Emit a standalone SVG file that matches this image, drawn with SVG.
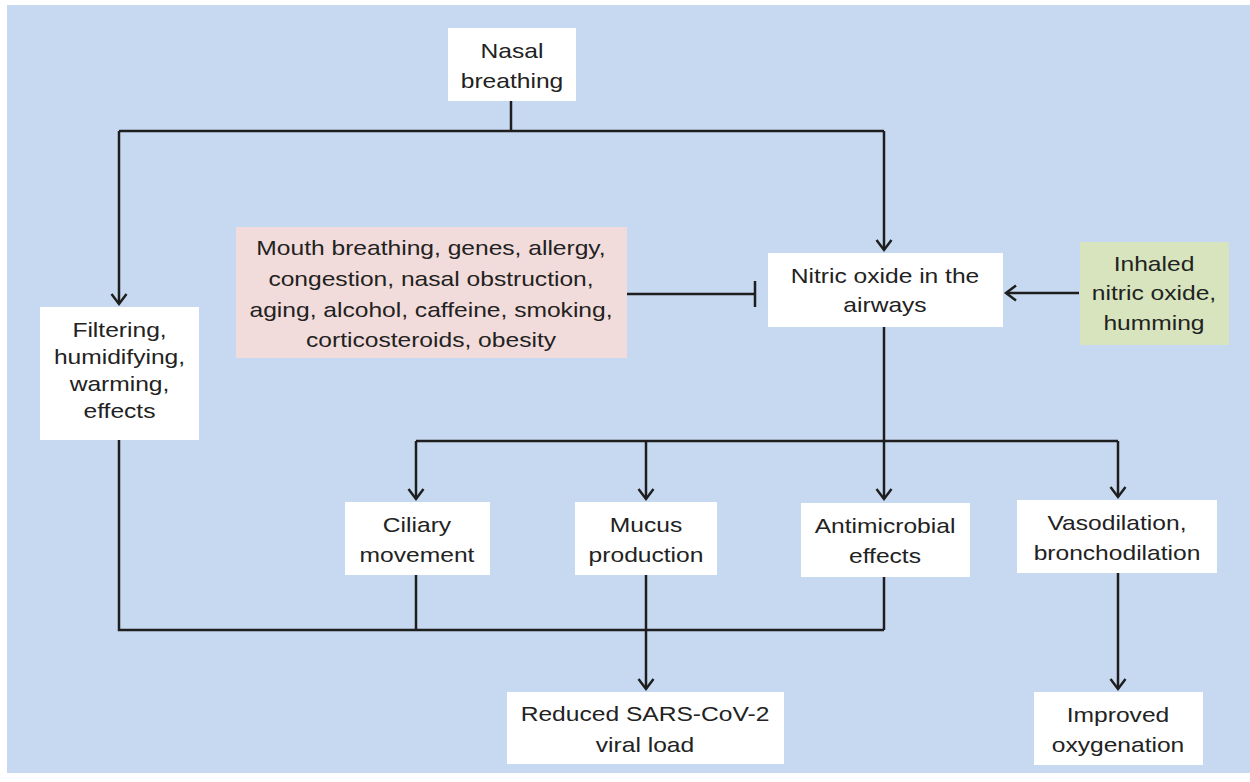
<svg xmlns="http://www.w3.org/2000/svg" width="1250" height="782" viewBox="0 0 1250 782">
<style>
.bg{fill:#c6d9f0}
.box{fill:#ffffff}
.pink{fill:#f2dcdb}
.green{fill:#d7e4bd}
.t{font-family:"Liberation Sans",Arial,sans-serif;font-size:20.5px;fill:#222222;text-anchor:middle}
.ln{fill:none;stroke:#1e1e1e;stroke-width:2.5;stroke-linecap:butt}
.arr{marker-end:url(#ah)}
</style>
<defs>
<marker id="ah" markerUnits="userSpaceOnUse" markerWidth="20" markerHeight="20" viewBox="0 0 20 20" refX="12" refY="10" orient="auto">
<path d="M2,2.5 L12,10 L2,17.5" fill="none" stroke="#1e1e1e" stroke-width="2.5"/>
</marker>
</defs>
<rect class="bg" x="7" y="5" width="1243" height="768"/>

<g id="connectors">
<path class="ln" d="M511,101 V131"/>
<path class="ln" d="M119,131 H884"/>
<path class="ln arr" d="M119,131 V304"/>
<path class="ln arr" d="M884,131 V250"/>
<path class="ln" d="M627,294 H755"/>
<path class="ln" d="M755,281 V307"/>
<path class="ln arr" d="M1079,293 H1006"/>
<path class="ln arr" d="M884,327 V499"/>
<path class="ln" d="M416,441 H1118"/>
<path class="ln arr" d="M416,441 V499"/>
<path class="ln arr" d="M646,441 V499"/>
<path class="ln arr" d="M1118,441 V497"/>
<path class="ln" d="M119,440 V630 H884"/>
<path class="ln" d="M416,575 V630"/>
<path class="ln" d="M884,577 V630"/>
<path class="ln arr" d="M646,575 V689"/>
<path class="ln arr" d="M1118,573 V689"/>
</g>

<g id="nasal">
<rect class="box" x="448" y="28" width="128" height="73"/>
<text class="t" transform="translate(512,0) scale(1.2,1)"><tspan x="0" y="58">Nasal</tspan><tspan x="0" y="88">breathing</tspan></text>
</g>

<g id="filtering">
<rect class="box" x="40" y="307" width="159" height="133"/>
<text class="t" transform="translate(119.5,0) scale(1.2,1)"><tspan x="0" y="337">Filtering,</tspan><tspan x="0" y="364">humidifying,</tspan><tspan x="0" y="391">warming,</tspan><tspan x="0" y="418">effects</tspan></text>
</g>

<g id="factors">
<rect class="pink" x="236" y="227" width="391" height="131"/>
<text class="t" transform="translate(431,0) scale(1.2,1)"><tspan x="0" y="255">Mouth breathing, genes, allergy,</tspan><tspan x="0" y="286">congestion, nasal obstruction,</tspan><tspan x="0" y="317">aging, alcohol, caffeine, smoking,</tspan><tspan x="0" y="347">corticosteroids, obesity</tspan></text>
</g>

<g id="nitric">
<rect class="box" x="768" y="253" width="235" height="74"/>
<text class="t" transform="translate(885,0) scale(1.2,1)"><tspan x="0" y="283">Nitric oxide in the</tspan><tspan x="0" y="312">airways</tspan></text>
</g>

<g id="inhaled">
<rect class="green" x="1080" y="242" width="149" height="103"/>
<text class="t" transform="translate(1154,0) scale(1.2,1)"><tspan x="0" y="271">Inhaled</tspan><tspan x="0" y="300">nitric oxide,</tspan><tspan x="0" y="330">humming</tspan></text>
</g>

<g id="ciliary">
<rect class="box" x="345" y="502" width="145" height="73"/>
<text class="t" transform="translate(417,0) scale(1.2,1)"><tspan x="0" y="532">Ciliary</tspan><tspan x="0" y="562">movement</tspan></text>
</g>

<g id="mucus">
<rect class="box" x="575" y="502" width="142" height="73"/>
<text class="t" transform="translate(646,0) scale(1.2,1)"><tspan x="0" y="532">Mucus</tspan><tspan x="0" y="562">production</tspan></text>
</g>

<g id="antimicrobial">
<rect class="box" x="801" y="503" width="169" height="74"/>
<text class="t" transform="translate(885,0) scale(1.2,1)"><tspan x="0" y="533">Antimicrobial</tspan><tspan x="0" y="563">effects</tspan></text>
</g>

<g id="vasodilation">
<rect class="box" x="1017" y="500" width="200" height="73"/>
<text class="t" transform="translate(1117,0) scale(1.2,1)"><tspan x="0" y="530">Vasodilation,</tspan><tspan x="0" y="560">bronchodilation</tspan></text>
</g>

<g id="reduced">
<rect class="box" x="507" y="692" width="277" height="72"/>
<text class="t" transform="translate(645,0) scale(1.2,1)"><tspan x="0" y="721">Reduced SARS-CoV-2</tspan><tspan x="0" y="752">viral load</tspan></text>
</g>

<g id="improved">
<rect class="box" x="1034" y="692" width="169" height="73"/>
<text class="t" transform="translate(1118,0) scale(1.2,1)"><tspan x="0" y="722">Improved</tspan><tspan x="0" y="752">oxygenation</tspan></text>
</g>
</svg>
